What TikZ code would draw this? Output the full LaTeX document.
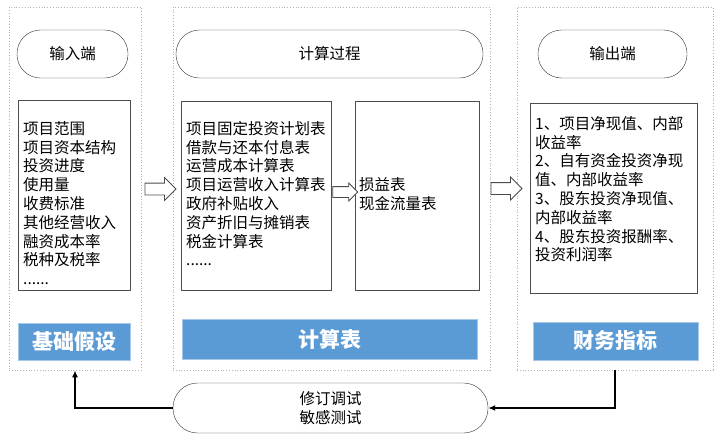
\documentclass[tikz,border=0pt]{standalone}
\usepackage{fontspec}
\setmainfont{Noto Sans CJK SC}
\usetikzlibrary{shapes.arrows,arrows.meta}
\definecolor{barblue}{RGB}{91,155,213}

\begin{document}
\begin{tikzpicture}
  [x=1pt, y=-1pt,
   panel/.style={draw=gray!60, dotted, line width=0.8pt, inner sep=0pt},
   term/.style={draw=black!80, rounded corners=23.5pt, minimum height=48pt, inner sep=0pt,
                font=\fontsize{15.5}{19}\selectfont, align=center},
   listbox/.style={draw=black!70, line width=0.8pt, inner sep=0pt},
   listtext/.style={anchor=north west, align=left, inner sep=0pt, font=\fontsize{15.5}{18.8}\selectfont},
   bar/.style={fill=barblue, draw=barblue!55!white, line width=1pt, text=white, inner sep=0pt,
               font=\fontsize{21}{21}\selectfont\bfseries},
   hollow/.style={single arrow, draw=black!70, fill=white, line width=0.8pt, inner xsep=0pt,
                  inner ysep=5.5pt, single arrow head extend=5.5pt, single arrow head indent=0pt},
   feedback/.style={draw=black, line width=1.3pt, -{Latex[length=7pt,width=6pt]}}]
  \useasboundingbox (0,0) rectangle (719,437);

  \node[panel, minimum width=132pt, minimum height=363pt] (inpanel) at (75,188.5) {};
  \node[panel, minimum width=317pt, minimum height=363pt] (calcpanel) at (331.5,188.5) {};
  \node[panel, minimum width=196pt, minimum height=363pt] (outpanel) at (615,188.5) {};

  \node[term, minimum width=111pt] (input) at (72.5,54) {输入端};
  \node[term, minimum width=307pt] (process) at (329.5,54) {计算过程};
  \node[term, minimum width=149pt] (output) at (612.5,54) {输出端};

  \node[listbox, minimum width=112pt, minimum height=190pt] (inlist) at (74,195) {};
  \node[listbox, minimum width=150pt, minimum height=189pt] (calclist) at (256,195.5) {};
  \node[listbox, minimum width=124pt, minimum height=189pt] (sumlist) at (417,195.5) {};
  \node[listbox, minimum width=167pt, minimum height=190pt] (outlist) at (613.5,198) {};

  \node[listtext] (intext) at (23,121) {项目范围\\项目资本结构\\投资进度\\使用量\\收费标准\\其他经营收入\\融资成本率\\税种及税率\\......};
  \node[listtext] (calctext) at (186,121) {项目固定投资计划表\\借款与还本付息表\\运营成本计算表\\项目运营收入计算表\\政府补贴收入\\资产折旧与摊销表\\税金计算表\\......};
  \node[listtext] (sumtext) at (359,177) {损益表\\现金流量表};
  \node[listtext] (outtext) at (535,116) {1、项目净现值、内部\\收益率\\2、自有资金投资净现\\值、内部收益率\\3、股东投资净现值、\\内部收益率\\4、股东投资报酬率、\\投资利润率};

  \node[bar, minimum width=112pt, minimum height=37pt] (basebar) at (74,341.5) {基础假设};
  \node[bar, minimum width=295pt, minimum height=40pt] (calcbar) at (329.5,339) {计算表};
  \node[bar, minimum width=165pt, minimum height=38pt] (finbar) at (615.5,341) {财务指标};

  \node[hollow, minimum height=31pt] (arrowin) at (157.5,189) {};
  \node[hollow, minimum height=25pt, inner ysep=5pt, single arrow head extend=3.5pt] (arrowmid) at (342.5,192) {};
  \node[hollow, minimum height=31pt] (arrowout) at (503.5,188.5) {};

  \node[term, minimum width=315pt, minimum height=50pt, rounded corners=24.5pt] (revise) at (330.5,408) {修订调试\\敏感测试};

  \draw[feedback] (outpanel.south) |- (revise.east);
  \draw[feedback] (revise.west) -| (inpanel.south);
\end{tikzpicture}
\end{document}
